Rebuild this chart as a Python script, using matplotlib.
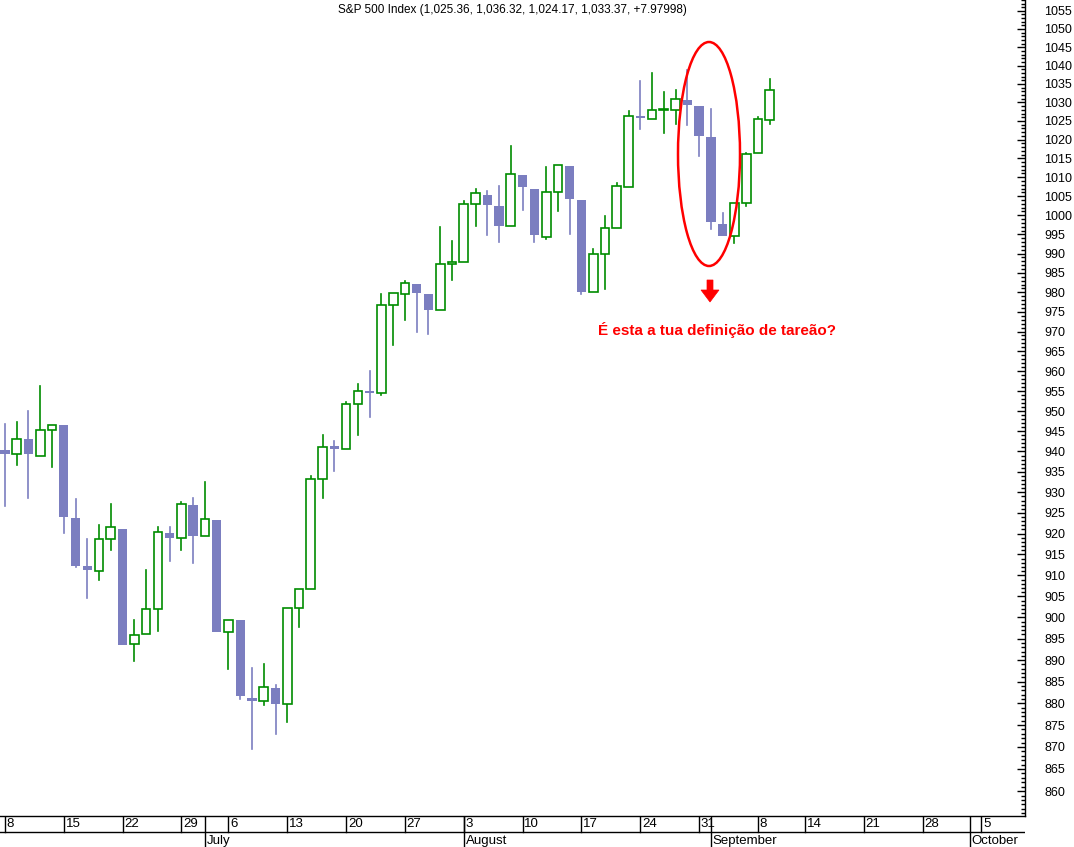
import matplotlib
matplotlib.use("Agg")
import matplotlib.pyplot as plt
import numpy as np
from matplotlib.patches import Rectangle, Ellipse, Polygon
from matplotlib.ticker import FixedLocator, NullFormatter

dates = ["Jun 8","Jun 9","Jun 10","Jun 11","Jun 12","Jun 15","Jun 16","Jun 17","Jun 18","Jun 19",
         "Jun 22","Jun 23","Jun 24","Jun 25","Jun 26","Jun 29","Jun 30",
         "Jul 1","Jul 2","Jul 6","Jul 7","Jul 8","Jul 9","Jul 10","Jul 13","Jul 14","Jul 15","Jul 16","Jul 17",
         "Jul 20","Jul 21","Jul 22","Jul 23","Jul 24","Jul 27","Jul 28","Jul 29","Jul 30","Jul 31",
         "Aug 3","Aug 4","Aug 5","Aug 6","Aug 7","Aug 10","Aug 11","Aug 12","Aug 13","Aug 14",
         "Aug 17","Aug 18","Aug 19","Aug 20","Aug 21","Aug 24","Aug 25","Aug 26","Aug 27","Aug 28","Aug 31",
         "Sep 1","Sep 2","Sep 3","Sep 4","Sep 8","Sep 9"]
opens = [940.3,939.5,943.0,939.0,945.3,946.6,923.7,912.3,911.0,918.6,
         921.2,893.7,896.0,902.0,920.2,919.0,927.0,
         919.4,923.3,896.5,899.3,881.2,880.5,883.5,879.8,902.2,906.8,933.2,941.0,
         940.7,951.7,954.7,954.5,976.7,979.6,982.2,979.6,975.5,987.2,
         987.9,1002.9,1005.3,1002.5,997.2,1010.5,1006.8,994.2,1006.0,1013.0,
         1004.0,980.0,990.0,996.6,1007.5,1026.3,1025.6,1028.0,1028.0,1030.6,1028.9,
         1020.6,997.8,994.6,1003.2,1016.4,1025.36]
highs = [946.8,947.3,950.0,956.3,946.6,946.6,928.3,918.6,922.0,927.1,
         921.2,899.5,911.2,921.6,921.6,927.6,928.6,
         932.4,923.3,899.5,899.3,888.2,889.0,884.2,902.2,906.8,934.0,944.0,942.5,
         952.3,956.7,960.0,979.6,979.8,982.8,982.2,979.6,996.9,993.3,
         1003.7,1007.0,1006.5,1007.8,1018.2,1010.5,1006.8,1012.8,1013.2,1013.0,
         1004.0,991.3,999.7,1008.4,1027.7,1035.8,1038.0,1032.7,1033.3,1038.9,1028.9,
         1028.3,1000.5,1003.2,1016.5,1026.2,1036.32]
lows = [926.7,936.6,928.5,939.0,936.3,920.2,912.0,904.7,908.8,916.0,
        893.6,889.7,896.0,896.8,913.3,916.0,913.0,
        919.4,896.5,888.0,880.9,869.5,879.5,873.0,875.8,897.7,906.8,928.5,935.3,
        940.7,944.0,948.5,954.0,966.7,973.0,970.0,969.3,975.5,983.2,
        987.9,997.3,994.8,993.0,997.2,1001.3,993.0,993.8,1001.2,995.2,
        979.5,980.0,980.8,996.6,1007.5,1022.9,1025.6,1021.8,1024.3,1023.8,1015.6,
        996.4,994.7,992.8,1002.5,1016.4,1024.17]
closes = [939.5,943.0,939.5,945.4,946.6,923.9,912.3,911.2,918.6,921.5,
          893.6,895.9,901.9,920.5,919.0,927.1,919.4,
          923.5,896.5,899.5,881.6,880.5,883.7,879.8,902.2,906.8,933.2,941.2,940.7,
          951.7,955.0,954.5,976.7,979.8,982.3,979.8,975.5,987.2,987.9,
          1002.9,1005.8,1002.7,997.3,1010.8,1007.3,994.8,1006.0,1013.2,1004.3,
          980.1,990.0,996.6,1007.6,1026.3,1025.8,1028.0,1028.3,1030.9,1029.2,1020.9,
          998.2,994.7,1003.2,1016.3,1025.4,1033.37]

# Monday / first-day tick labels (trading-day index, label)
week_idx = [0,5,10,15,19,24,29,34,39,44,49,54,59,64,68,73,78,83]
week_lbl = ["8","15","22","29","6","13","20","27","3","10","17","24","31","8","14","21","28","5"]
month_idx = [17,39,60,82]
month_lbl = ["July","August","September","October"]

title = "S&P 500 Index (1,025.36, 1,036.32, 1,024.17, 1,033.37, +7.97998)"
note = "É esta a tua definição de tareão?"

UP = "#008C00"
DN = "#7B7EC0"
W, H = 1074, 847
fig = plt.figure(figsize=(W/100, H/100), dpi=100)
plt.rcParams['font.family'] = ['Liberation Sans', 'DejaVu Sans']
ax = fig.add_axes([0, 31/H, 1025/W, 816/H])
sx = fig.add_axes([0, 0, 1025/W, 31/H])

xmin, xmax = -0.42, 86.7
for i, (o, h, l, c) in enumerate(zip(opens, highs, lows, closes)):
    col = UP if c >= o else DN
    lo_b, hi_b = min(o, c), max(o, c)
    ax.plot([i, i], [l, lo_b], color=col, lw=1.2, zorder=1)
    ax.plot([i, i], [hi_b, h], color=col, lw=1.2, zorder=1)
    if c >= o:
        ax.add_patch(Rectangle((i-0.37, lo_b), 0.74, max(hi_b-lo_b, 0.3), facecolor="white", edgecolor=UP, lw=1.2, zorder=2))
    else:
        ax.add_patch(Rectangle((i-0.4, lo_b), 0.8, max(hi_b-lo_b, 0.6), facecolor=DN, edgecolor=DN, lw=0, zorder=2))

ax.set_yscale('log')
ax.set_xlim(xmin, xmax)
ax.set_ylim(854.4, 1058.0)
ax.yaxis.tick_right()
ax.yaxis.set_major_locator(FixedLocator(np.arange(860, 1060, 5)))
ax.yaxis.set_minor_locator(FixedLocator(np.arange(855, 1059, 1)))
ax.yaxis.set_minor_formatter(NullFormatter())
ax.set_yticklabels([str(v) for v in np.arange(860, 1060, 5)])
ax.tick_params(axis='y', which='major', direction='in', length=6, width=1, labelsize=9, pad=14)
ax.tick_params(axis='y', which='minor', direction='in', length=3, width=1)
ax.set_xticks([])
for s in ['left', 'top']:
    ax.spines[s].set_visible(False)
ax.spines['right'].set_linewidth(1)
ax.spines['bottom'].set_linewidth(1)

ax.text(0.5, 1 - 10/816, title, transform=ax.transAxes, ha='center', va='center', fontsize=8.5)
ax.add_patch(Ellipse((709/1025, 1-154/816), 62/1025, 224/816, transform=ax.transAxes,
                     fill=False, edgecolor='red', lw=1.8, zorder=5))
def P(px, py):
    return (px/1025, 1-py/816)
arrow = [P(707,280), P(713,280), P(713,290), P(719,290), P(710,302), P(701,290), P(707,290)]
ax.add_patch(Polygon(arrow, closed=True, transform=ax.transAxes, facecolor='red', edgecolor='red', lw=0.5, zorder=5))
ax.text(598/1025, 1-330/816, note, transform=ax.transAxes, ha='left', va='center',
        fontsize=11, fontweight='bold', color='red')

# date strip
sx.set_xlim(xmin, xmax)
sx.set_ylim(0, 1)
sx.axis('off')
sx.plot([xmin, xmax], [15/31, 15/31], color='black', lw=1)
for i, t in zip(week_idx, week_lbl):
    sx.plot([i, i], [15/31, 1], color='black', lw=1)
    sx.text(i + 0.15, 23/31, t, ha='left', va='center', fontsize=9.5)
for i, t in zip(month_idx, month_lbl):
    sx.plot([i, i], [0, 1], color='black', lw=1)
    sx.text(i + 0.15, 6/31, t, ha='left', va='center', fontsize=9.5)

fig.savefig("out.png", dpi=100)
